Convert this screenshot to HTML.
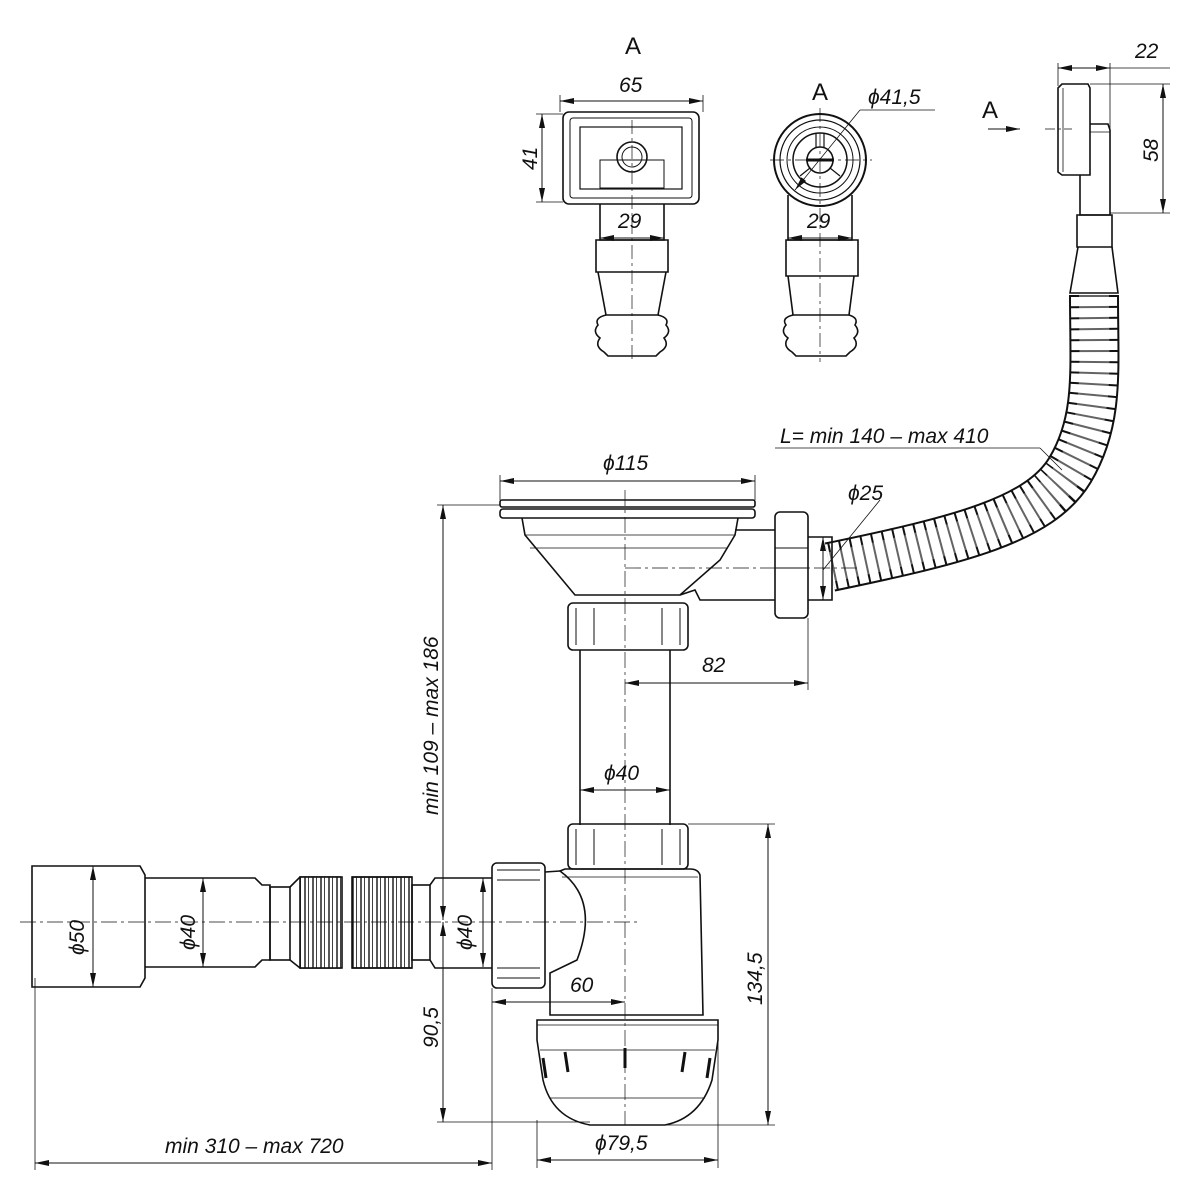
<!DOCTYPE html>
<html><head><meta charset="utf-8"><style>
html,body{margin:0;padding:0;background:#fff}
svg{display:block}
text{font-family:"Liberation Sans",sans-serif;font-style:italic;font-size:21px;fill:#111}
</style></head><body>
<svg width="1200" height="1200" viewBox="0 0 1200 1200" xmlns="http://www.w3.org/2000/svg">
<defs>
<marker id="ar" viewBox="0 0 14 6" refX="14" refY="3" markerWidth="14" markerHeight="6" orient="auto-start-reverse" markerUnits="userSpaceOnUse"><path d="M0,0 L14,3 L0,6 z" fill="#111"/></marker>
<pattern id="rib" width="8" height="10" patternUnits="userSpaceOnUse"><rect width="8" height="10" fill="#fff"/><line x1="1" y1="0" x2="1" y2="10" stroke="#111" stroke-width="1.4"/><line x1="4.5" y1="0" x2="4.5" y2="10" stroke="#111" stroke-width="0.8"/></pattern>
</defs>
<g fill="none" stroke="#111" stroke-width="1.6">

<!-- ===== Top view A (square) ===== -->
<text x="625" y="54" style="font-style:normal;font-size:24px" stroke="none">A</text>
<line x1="560" y1="101" x2="703" y2="101" stroke-width="1" marker-start="url(#ar)" marker-end="url(#ar)"/>
<line x1="560" y1="95" x2="560" y2="112" stroke-width="0.8"/><line x1="703" y1="95" x2="703" y2="112" stroke-width="0.8"/>
<text x="619" y="92" stroke="none">65</text>
<rect x="563" y="112" width="136" height="92" rx="6"/>
<rect x="570" y="118" width="122" height="80" rx="3" stroke-width="1"/>
<rect x="580" y="127" width="102" height="62" stroke-width="1.2"/>
<rect x="600" y="160" width="64" height="28" stroke-width="1"/>
<circle cx="632" cy="157" r="15"/><circle cx="632" cy="157" r="10" stroke-width="1"/>
<line x1="542" y1="114" x2="542" y2="202" stroke-width="1" marker-start="url(#ar)" marker-end="url(#ar)"/>
<line x1="536" y1="114" x2="563" y2="114" stroke-width="0.8"/><line x1="536" y1="202" x2="563" y2="202" stroke-width="0.8"/>
<text x="0" y="0" transform="translate(537,170) rotate(-90)" stroke="none">41</text>
<path d="M600,204 V240 H664 V204"/>
<line x1="600" y1="238" x2="664" y2="238" stroke-width="1" marker-start="url(#ar)" marker-end="url(#ar)"/>
<text x="618" y="228" stroke="none">29</text>
<path d="M596,240 H668 V272 H596 Z"/>
<path d="M598,272 L606,315 H658 L666,272"/>
<path d="M606,315 Q594,318 598,325 Q592,332 600,338 Q594,346 604,352 L608,356 H656 L660,352 Q670,346 664,338 Q672,332 666,325 Q670,318 658,315"/>
<line x1="632" y1="120" x2="632" y2="362" stroke-width="0.7" stroke-dasharray="14 4 3 4"/>

<!-- ===== Round view A ===== -->
<text x="812" y="100" style="font-style:normal;font-size:24px" stroke="none">A</text>
<text x="868" y="104" stroke="none">ϕ41,5</text>
<line x1="860" y1="110" x2="935" y2="110" stroke-width="0.8"/>
<line x1="860" y1="110" x2="795" y2="190" stroke-width="0.8" marker-end="url(#ar)"/>
<circle cx="820" cy="160" r="46" stroke-width="2"/>
<circle cx="820" cy="160" r="40" stroke-width="1.2"/>
<circle cx="820" cy="160" r="33" stroke-width="1"/>
<circle cx="820" cy="160" r="27" stroke-width="1.5"/>
<circle cx="820" cy="160" r="13"/>
<path d="M816,133 V147 M824,133 V147 M800,176 L810,168 M840,176 L830,168" stroke-width="1.2"/>
<line x1="806" y1="160" x2="834" y2="160" stroke-width="3"/>
<path d="M788,195 V240 H852 V195"/>
<line x1="788" y1="238" x2="852" y2="238" stroke-width="1" marker-start="url(#ar)" marker-end="url(#ar)"/>
<text x="807" y="228" stroke="none">29</text>
<path d="M786,240 H858 V276 H786 Z"/>
<path d="M788,276 L793,315 H849 L854,276"/>
<path d="M793,315 Q781,318 786,325 Q780,332 788,338 Q782,346 792,352 L796,356 H846 L850,352 Q860,346 854,338 Q861,332 855,325 Q859,318 849,315"/>
<line x1="820" y1="108" x2="820" y2="362" stroke-width="0.7" stroke-dasharray="14 4 3 4"/>
<line x1="770" y1="160" x2="872" y2="160" stroke-width="0.7" stroke-dasharray="14 4 3 4"/>

<!-- ===== Overflow side ===== -->
<text x="982" y="118" style="font-style:normal;font-size:24px" stroke="none">A</text>
<line x1="988" y1="129" x2="1020" y2="129" stroke-width="1" marker-end="url(#ar)"/>
<path d="M1058,88 L1062,84 H1088 L1090,88 V175 H1062 L1058,172 Z"/>
<line x1="1063" y1="88" x2="1063" y2="172" stroke-width="0.8"/>
<path d="M1090,124 H1108 L1110,130 V215 H1080 V175"/>
<line x1="1090" y1="132" x2="1110" y2="132" stroke-width="0.8"/>
<line x1="1058" y1="63" x2="1058" y2="86" stroke-width="0.8"/>
<line x1="1110" y1="63" x2="1110" y2="215" stroke-width="0.8"/>
<line x1="1058" y1="68" x2="1110" y2="68" stroke-width="1" marker-start="url(#ar)" marker-end="url(#ar)"/>
<line x1="1110" y1="68" x2="1170" y2="68" stroke-width="0.8"/>
<text x="1135" y="58" stroke="none">22</text>
<line x1="1090" y1="84" x2="1170" y2="84" stroke-width="0.8"/>
<line x1="1110" y1="213" x2="1170" y2="213" stroke-width="0.8"/>
<line x1="1163" y1="84" x2="1163" y2="213" stroke-width="1" marker-start="url(#ar)" marker-end="url(#ar)"/>
<text x="0" y="0" transform="translate(1158,162) rotate(-90)" stroke="none">58</text>
<line x1="1045" y1="129" x2="1072" y2="129" stroke-width="0.7" stroke-dasharray="10 3 3 3"/>
<path d="M1077,215 H1112 V247 H1077 Z"/>
<path d="M1078,247 L1070,293 H1118 L1112,247"/>

<!-- ===== Overflow corrugated hose ===== -->
<path d="M1094,295 C1094,370 1100,420 1070,470 C1040,520 960,540 830,567" stroke="#111" stroke-width="50"/>
<path d="M1094,295 C1094,370 1100,420 1070,470 C1040,520 960,540 830,567" stroke="#fff" stroke-width="46"/>
<path d="M1094,295 C1094,370 1100,420 1070,470 C1040,520 960,540 830,567" stroke="#111" stroke-width="48" stroke-dasharray="2 9"/>
<path d="M1094,295 C1094,370 1100,420 1070,470 C1040,520 960,540 830,567" stroke="#fff" stroke-width="30" opacity="0.35"/>
<line x1="775" y1="448" x2="1040" y2="448" stroke-width="0.8"/>
<line x1="1040" y1="448" x2="1062" y2="470" stroke-width="0.8"/>
<text x="780" y="443" stroke="none">L= min 140 – max 410</text>

<!-- ===== Strainer ===== -->
<line x1="500" y1="481" x2="755" y2="481" stroke-width="1" marker-start="url(#ar)" marker-end="url(#ar)"/>
<line x1="500" y1="475" x2="500" y2="500" stroke-width="0.8"/><line x1="755" y1="475" x2="755" y2="500" stroke-width="0.8"/>
<text x="603" y="470" stroke="none">ϕ115</text>
<rect x="500" y="500" width="255" height="7" rx="2"/>
<rect x="500" y="509" width="255" height="9" rx="3"/>
<path d="M522,518 L525,535 L575,595 H680 L720,560 L735,535 L738,518"/>
<path d="M525,535 H735 M530,548 H728" stroke-width="0.8"/>
<path d="M680,595 L695,590 L700,600 H775 M735,530 H775"/>
<rect x="775" y="512" width="33" height="106" rx="5"/>
<path d="M775,548 H808 M775,568 H808" stroke-width="1"/>
<path d="M808,537 H832 V600 H808"/>
<line x1="823" y1="537" x2="823" y2="600" stroke-width="1" marker-start="url(#ar)" marker-end="url(#ar)"/>
<line x1="823" y1="570" x2="880" y2="500" stroke-width="0.8"/>
<text x="848" y="500" stroke="none">ϕ25</text>
<line x1="625" y1="568" x2="860" y2="568" stroke-width="0.7" stroke-dasharray="16 4 3 4"/>
<line x1="808" y1="618" x2="808" y2="690" stroke-width="0.8"/>

<!-- nut -->
<rect x="568" y="603" width="120" height="47" rx="5"/>
<path d="M576,608 V645 M594,608 V645 M662,608 V645 M680,608 V645" stroke-width="1"/>
<path d="M580,650 V825 M670,650 V825"/>
<line x1="625" y1="683" x2="808" y2="683" stroke-width="1" marker-start="url(#ar)" marker-end="url(#ar)"/>
<text x="702" y="672" stroke="none">82</text>
<line x1="580" y1="790" x2="670" y2="790" stroke-width="1" marker-start="url(#ar)" marker-end="url(#ar)"/>
<text x="604" y="780" stroke="none">ϕ40</text>
<rect x="568" y="824" width="120" height="45" rx="5"/>
<path d="M576,829 V865 M594,829 V865 M662,829 V865 M680,829 V865" stroke-width="1"/>
<line x1="688" y1="824" x2="775" y2="824" stroke-width="0.8"/>

<!-- trap body -->
<path d="M560,871 Q600,900 577,960 L550,973 V1015 H703 L700,875 Q698,869 690,869 H565 Z"/>
<path d="M562,877 H698" stroke-width="0.8"/>
<rect x="492" y="863" width="53" height="125" rx="5"/>
<path d="M497,870 H540 M497,880 H540 M497,968 H540 M497,978 H540" stroke-width="1"/>
<line x1="545" y1="872" x2="560" y2="871"/>
<line x1="492" y1="1002" x2="625" y2="1002" stroke-width="1" marker-start="url(#ar)" marker-end="url(#ar)"/>
<text x="570" y="992" stroke="none">60</text>
<!-- cup -->
<path d="M537,1020 H718 V1040 L712,1080 Q700,1118 665,1125 H590 Q552,1118 543,1080 L537,1040 Z"/>
<path d="M537,1025 H718 M540,1050 H715 M550,1098 H705" stroke-width="0.8"/>
<path d="M543,1058 l3,20 M565,1052 l3,20 M625,1048 v20 M685,1052 l-3,20 M710,1058 l-3,20" stroke-width="3"/>
<line x1="537" y1="1120" x2="537" y2="1168" stroke-width="0.8"/><line x1="718" y1="1040" x2="718" y2="1168" stroke-width="0.8"/>
<line x1="537" y1="1160" x2="718" y2="1160" stroke-width="1" marker-start="url(#ar)" marker-end="url(#ar)"/>
<text x="595" y="1150" stroke="none">ϕ79,5</text>
<line x1="768" y1="824" x2="768" y2="1125" stroke-width="1" marker-start="url(#ar)" marker-end="url(#ar)"/>
<line x1="665" y1="1125" x2="775" y2="1125" stroke-width="0.8"/>
<text x="0" y="0" transform="translate(762,1005) rotate(-90)" stroke="none">134,5</text>
<line x1="625" y1="490" x2="625" y2="1125" stroke-width="0.7" stroke-dasharray="16 4 3 4"/>

<!-- left dims -->
<line x1="443" y1="505" x2="443" y2="920" stroke-width="1" marker-start="url(#ar)" marker-end="url(#ar)"/>
<line x1="437" y1="505" x2="500" y2="505" stroke-width="0.8"/>
<text x="0" y="0" transform="translate(438,815) rotate(-90)" stroke="none">min 109 – max 186</text>
<line x1="443" y1="922" x2="443" y2="1122" stroke-width="1" marker-start="url(#ar)" marker-end="url(#ar)"/>
<line x1="437" y1="1122" x2="590" y2="1122" stroke-width="0.8"/>
<text x="0" y="0" transform="translate(438,1048) rotate(-90)" stroke="none">90,5</text>
<line x1="492" y1="988" x2="492" y2="1170" stroke-width="0.8"/>
<line x1="35" y1="978" x2="35" y2="1170" stroke-width="0.8"/>
<line x1="35" y1="1163" x2="492" y2="1163" stroke-width="1" marker-start="url(#ar)" marker-end="url(#ar)"/>
<text x="165" y="1153" stroke="none">min 310 – max 720</text>

<!-- left hose -->
<path d="M32,866 H140 L145,875 V978 L140,987 H32 Z"/>
<path d="M145,878 H255 L262,885 H270 V960 H262 L255,967 H145"/>
<rect x="270" y="887" width="20" height="73"/>
<path d="M290,887 L300,877 H340 V968 H300 L290,960"/>
<rect x="300" y="877" width="42" height="91" fill="url(#rib)"/>
<rect x="352" y="877" width="60" height="91" fill="url(#rib)"/>
<path d="M352,877 H412 M352,968 H412"/>
<rect x="412" y="885" width="18" height="75"/>
<path d="M430,885 L435,878 H492 M430,960 L435,968 H492"/>
<line x1="93" y1="866" x2="93" y2="987" stroke-width="1" marker-start="url(#ar)" marker-end="url(#ar)"/>
<text x="0" y="0" transform="translate(84,955) rotate(-90)" stroke="none">ϕ50</text>
<line x1="203" y1="878" x2="203" y2="967" stroke-width="1" marker-start="url(#ar)" marker-end="url(#ar)"/>
<text x="0" y="0" transform="translate(195,950) rotate(-90)" stroke="none">ϕ40</text>
<line x1="483" y1="878" x2="483" y2="967" stroke-width="1" marker-start="url(#ar)" marker-end="url(#ar)"/>
<text x="0" y="0" transform="translate(472,950) rotate(-90)" stroke="none">ϕ40</text>
<line x1="20" y1="922" x2="640" y2="922" stroke-width="0.7" stroke-dasharray="16 4 3 4"/>
</g>
</svg>
</body></html>
